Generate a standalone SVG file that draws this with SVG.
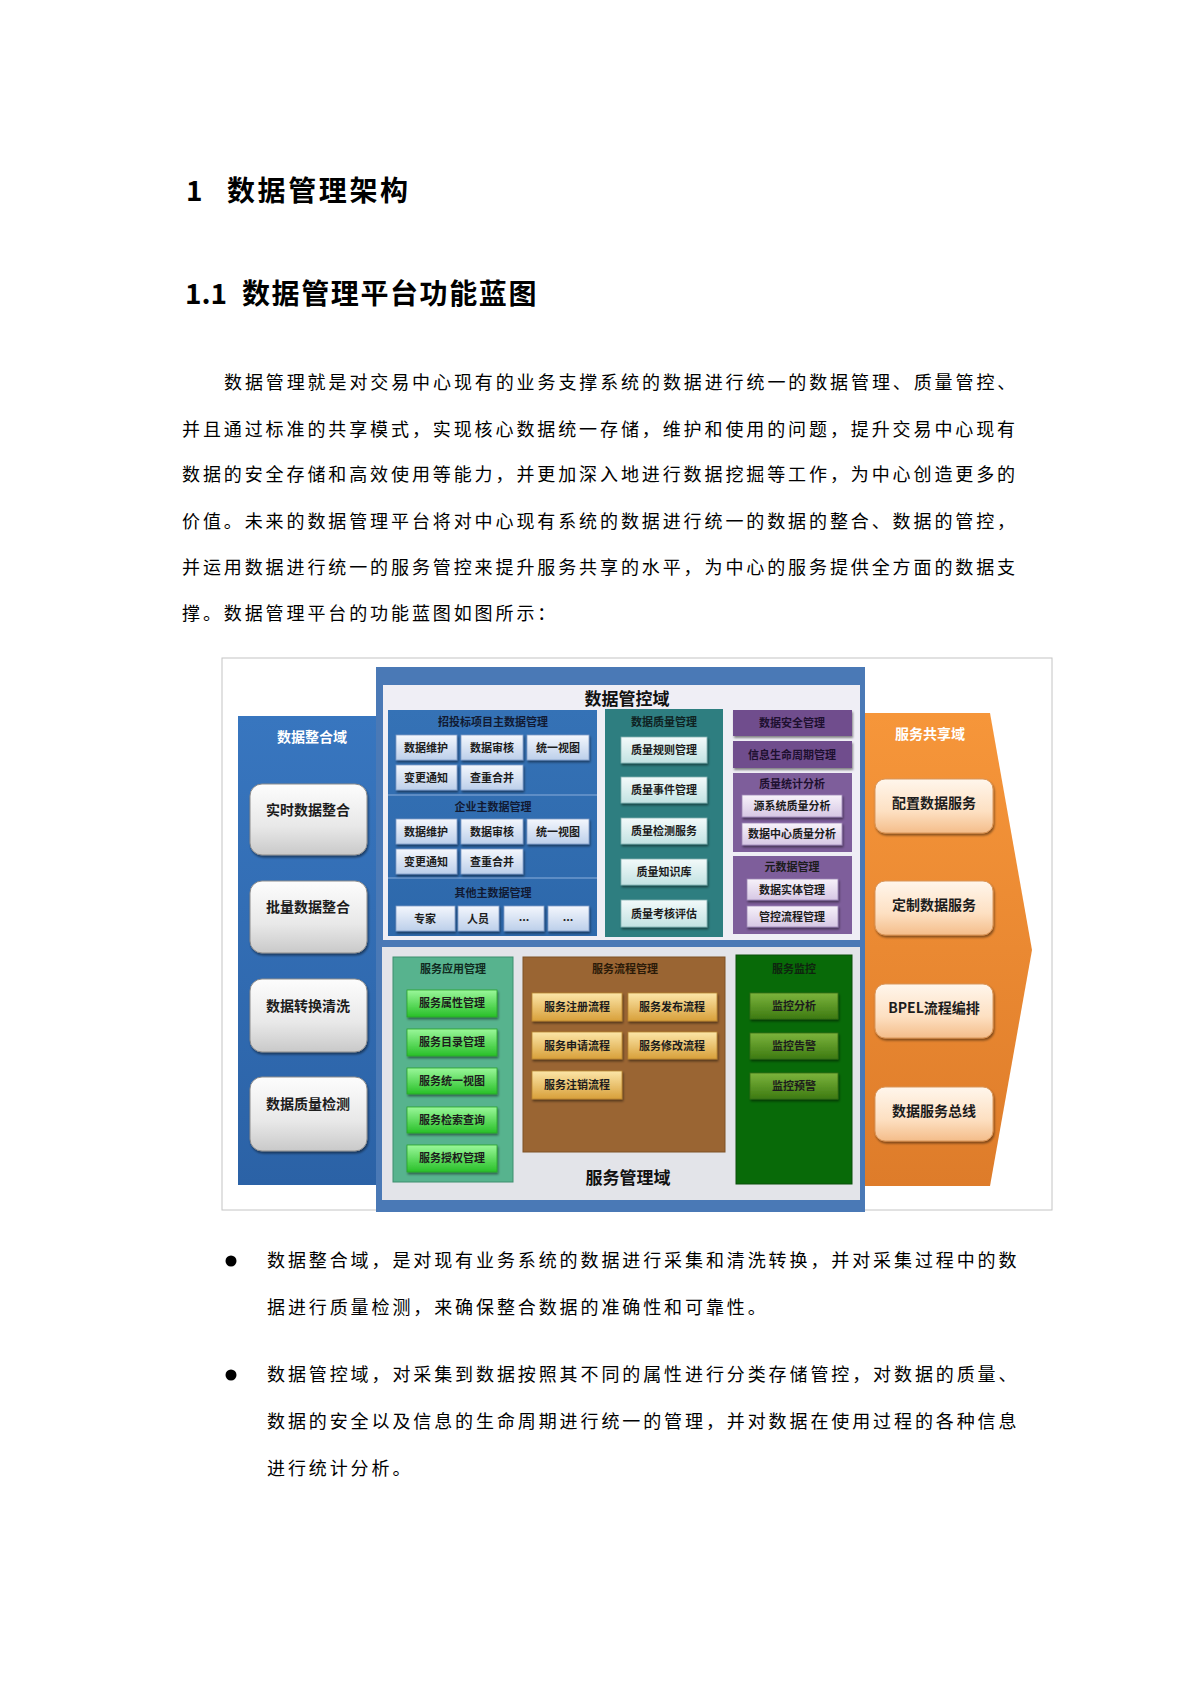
<svg xmlns="http://www.w3.org/2000/svg" width="1190" height="1683" viewBox="0 0 1190 1683">
<defs>
<linearGradient id="gLeftPanel" x1="0" y1="0" x2="0" y2="1"><stop offset="0" stop-color="#3876bf"/><stop offset="1" stop-color="#2b62a6"/></linearGradient>
<linearGradient id="gOrange" x1="0" y1="0" x2="0" y2="1"><stop offset="0" stop-color="#f6963a"/><stop offset="1" stop-color="#de7c2a"/></linearGradient>
<linearGradient id="gGrayBox" x1="0" y1="0" x2="0" y2="1"><stop offset="0" stop-color="#fdfdfd"/><stop offset="0.6" stop-color="#e8e8e8"/><stop offset="1" stop-color="#c9c9c9"/></linearGradient>
<linearGradient id="gPeachBox" x1="0" y1="0" x2="0" y2="1"><stop offset="0" stop-color="#fff6ec"/><stop offset="0.6" stop-color="#fde0c2"/><stop offset="1" stop-color="#f4bd8a"/></linearGradient>
<linearGradient id="gBlueBox" x1="0" y1="0" x2="0" y2="1"><stop offset="0" stop-color="#f4f7fd"/><stop offset="1" stop-color="#bccfea"/></linearGradient>
<linearGradient id="gTealBox" x1="0" y1="0" x2="0" y2="1"><stop offset="0" stop-color="#f3fafa"/><stop offset="1" stop-color="#c2e2e2"/></linearGradient>
<linearGradient id="gPurpleBox" x1="0" y1="0" x2="0" y2="1"><stop offset="0" stop-color="#f7f2fa"/><stop offset="1" stop-color="#d6c7e4"/></linearGradient>
<linearGradient id="gGreenBox" x1="0" y1="0" x2="0" y2="1"><stop offset="0" stop-color="#9af79a"/><stop offset="1" stop-color="#28c028"/></linearGradient>
<linearGradient id="gGoldBox" x1="0" y1="0" x2="0" y2="1"><stop offset="0" stop-color="#fce6a8"/><stop offset="1" stop-color="#d8a03a"/></linearGradient>
<linearGradient id="gOliveBox" x1="0" y1="0" x2="0" y2="1"><stop offset="0" stop-color="#7cb43c"/><stop offset="1" stop-color="#3d7a12"/></linearGradient>
<linearGradient id="gMaster" x1="0" y1="0" x2="0" y2="1"><stop offset="0" stop-color="#3572b6"/><stop offset="1" stop-color="#2d68ab"/></linearGradient>
<filter id="sh" x="-20%" y="-20%" width="140%" height="160%"><feDropShadow dx="1" dy="2" stdDeviation="1.2" flood-color="#000" flood-opacity="0.45"/></filter>
</defs>
<style>
text { font-family: "Noto Sans CJK SC", "Noto Sans", sans-serif; }
.body { font-size: 18px; letter-spacing: 2.9px; fill: #000; }
.h { font-size: 28px; fill: #000; font-weight: 600; }
.t { text-anchor: middle; font-weight: bold; fill: #1c1c1c; }
.s11 { font-size: 11px; }
.s12 { font-size: 12px; }
.s14 { font-size: 14px; }
.w { fill: #ffffff; }
.lb { fill: url(#gGrayBox); stroke: #8c8c8c; stroke-width: 1; filter: url(#sh); }
.ob { fill: url(#gPeachBox); stroke: #d9965a; stroke-width: 1; filter: url(#sh); }
.bb { fill: url(#gBlueBox); stroke: #7f9cc6; stroke-width: 0.8; filter: url(#sh); }
.tb { fill: url(#gTealBox); stroke: #7fb0b0; stroke-width: 0.8; filter: url(#sh); }
.pb { fill: url(#gPurpleBox); stroke: #9c86b4; stroke-width: 0.8; filter: url(#sh); }
.gb { fill: url(#gGreenBox); stroke: #2aa42a; stroke-width: 0.8; filter: url(#sh); }
.yb { fill: url(#gGoldBox); stroke: #b88530; stroke-width: 0.8; filter: url(#sh); }
.vb { fill: url(#gOliveBox); stroke: #386c12; stroke-width: 0.8; filter: url(#sh); }
</style>
<rect x="0" y="0" width="1190" height="1683" fill="#ffffff"/>

<g id="headings">
<text class="h" x="186" y="201">1</text>
<text class="h" x="227" y="201" style="letter-spacing:2.6px">数据管理架构</text>
<text class="h" x="185" y="304">1.1</text>
<text class="h" x="242" y="304" style="letter-spacing:1.6px">数据管理平台功能蓝图</text>
</g>

<g id="paragraph">
<text class="body" x="224" y="389">数据管理就是对交易中心现有的业务支撑系统的数据进行统一的数据管理、质量管控、</text>
<text class="body" x="182" y="436">并且通过标准的共享模式，实现核心数据统一存储，维护和使用的问题，提升交易中心现有</text>
<text class="body" x="182" y="481">数据的安全存储和高效使用等能力，并更加深入地进行数据挖掘等工作，为中心创造更多的</text>
<text class="body" x="182" y="528">价值。未来的数据管理平台将对中心现有系统的数据进行统一的数据的整合、数据的管控，</text>
<text class="body" x="182" y="574">并运用数据进行统一的服务管控来提升服务共享的水平，为中心的服务提供全方面的数据支</text>
<text class="body" x="182" y="620">撑。数据管理平台的功能蓝图如图所示：</text>
</g>

<g id="diagram">
<rect id="frame" x="222" y="658" width="830" height="552" fill="#ffffff" stroke="#c4c4c4" stroke-width="1"/>

<g id="integration-domain">
<rect x="238" y="716" width="152" height="469" fill="url(#gLeftPanel)"/>
<text class="t w s14" x="312" y="742">数据整合域</text>
<g id="n-realtime"><rect class="lb" x="250" y="784" width="117" height="71" rx="12"/><text class="t s14" x="308" y="815">实时数据整合</text></g>
<g id="n-batch"><rect class="lb" x="250" y="881" width="117" height="72" rx="12"/><text class="t s14" x="308" y="912">批量数据整合</text></g>
<g id="n-transform"><rect class="lb" x="250" y="979" width="117" height="73" rx="12"/><text class="t s14" x="308" y="1011">数据转换清洗</text></g>
<g id="n-quality-check"><rect class="lb" x="250" y="1077" width="117" height="74" rx="12"/><text class="t s14" x="308" y="1109">数据质量检测</text></g>
</g>

<g id="sharing-domain">
<polygon points="860,713 990,713 1032,950 990,1186 860,1186" fill="url(#gOrange)"/>
<text class="t w s14" x="930" y="739">服务共享域</text>
<g id="n-config"><rect class="ob" x="875" y="779" width="118" height="54" rx="10"/><text class="t s14" x="934" y="808">配置数据服务</text></g>
<g id="n-custom"><rect class="ob" x="875" y="881" width="118" height="54" rx="10"/><text class="t s14" x="934" y="910">定制数据服务</text></g>
<g id="n-bpel"><rect class="ob" x="875" y="984" width="118" height="54" rx="10"/><text class="t s14" x="934" y="1013">BPEL流程编排</text></g>
<g id="n-bus"><rect class="ob" x="875" y="1087" width="118" height="54" rx="10"/><text class="t s14" x="934" y="1116">数据服务总线</text></g>
</g>

<g id="center-frame">
<rect x="376" y="667" width="489" height="545" fill="#4a79b6"/>
<rect x="383" y="685" width="477" height="255" fill="#efeef5"/>
<rect x="382" y="947" width="478" height="253" fill="#e3e4e9"/>
</g>

<g id="control-domain">
<text class="t" x="627" y="705" style="font-size:17px;fill:#111">数据管控域</text>

<g id="master-data">
<rect x="388" y="710" width="209" height="226" fill="url(#gMaster)"/>
<line x1="388" y1="795" x2="597" y2="795" stroke="#6e98cc" stroke-width="1.5"/>
<line x1="388" y1="878" x2="597" y2="878" stroke="#6e98cc" stroke-width="1.5"/>
<text class="t s11" x="493" y="726" style="fill:#111a33">招投标项目主数据管理</text>
<g id="n-m1-1"><rect class="bb" x="396" y="735" width="61" height="25"/><text class="t s11" x="426" y="752">数据维护</text></g>
<g id="n-m1-2"><rect class="bb" x="461" y="735" width="62" height="25"/><text class="t s11" x="492" y="752">数据审核</text></g>
<g id="n-m1-3"><rect class="bb" x="527" y="735" width="62" height="25"/><text class="t s11" x="558" y="752">统一视图</text></g>
<g id="n-m1-4"><rect class="bb" x="396" y="765" width="61" height="25"/><text class="t s11" x="426" y="782">变更通知</text></g>
<g id="n-m1-5"><rect class="bb" x="461" y="765" width="62" height="25"/><text class="t s11" x="492" y="782">查重合并</text></g>
<text class="t s11" x="493" y="811" style="fill:#111a33">企业主数据管理</text>
<g id="n-m2-1"><rect class="bb" x="396" y="819" width="61" height="25"/><text class="t s11" x="426" y="836">数据维护</text></g>
<g id="n-m2-2"><rect class="bb" x="461" y="819" width="62" height="25"/><text class="t s11" x="492" y="836">数据审核</text></g>
<g id="n-m2-3"><rect class="bb" x="527" y="819" width="62" height="25"/><text class="t s11" x="558" y="836">统一视图</text></g>
<g id="n-m2-4"><rect class="bb" x="396" y="849" width="61" height="25"/><text class="t s11" x="426" y="866">变更通知</text></g>
<g id="n-m2-5"><rect class="bb" x="461" y="849" width="62" height="25"/><text class="t s11" x="492" y="866">查重合并</text></g>
<text class="t s11" x="493" y="897" style="fill:#111a33">其他主数据管理</text>
<g id="n-m3-1"><rect class="bb" x="396" y="906" width="59" height="25"/><text class="t s11" x="425" y="923">专家</text></g>
<g id="n-m3-2"><rect class="bb" x="458" y="906" width="41" height="25"/><text class="t s11" x="478" y="923">人员</text></g>
<g id="n-m3-3"><rect class="bb" x="504" y="906" width="40" height="25"/><text class="t s11" x="524" y="921">...</text></g>
<g id="n-m3-4"><rect class="bb" x="548" y="906" width="41" height="25"/><text class="t s11" x="568" y="921">...</text></g>
</g>

<g id="quality-mgmt">
<rect x="605" y="709" width="118" height="228" fill="#2e7e80"/>
<text class="t s11" x="664" y="726" style="fill:#0f2222">数据质量管理</text>
<g id="n-q1"><rect class="tb" x="621" y="737" width="86" height="26"/><text class="t s11" x="664" y="754">质量规则管理</text></g>
<g id="n-q2"><rect class="tb" x="621" y="777" width="86" height="26"/><text class="t s11" x="664" y="794">质量事件管理</text></g>
<g id="n-q3"><rect class="tb" x="621" y="818" width="86" height="26"/><text class="t s11" x="664" y="835">质量检测服务</text></g>
<g id="n-q4"><rect class="tb" x="621" y="859" width="86" height="26"/><text class="t s11" x="664" y="876">质量知识库</text></g>
<g id="n-q5"><rect class="tb" x="621" y="900" width="86" height="27"/><text class="t s11" x="664" y="918">质量考核评估</text></g>
</g>

<g id="security-mgmt">
<g id="n-sec"><rect x="733" y="710" width="119" height="26" fill="#6f4e8d" filter="url(#sh)"/><text class="t s11" x="792" y="727" style="fill:#1e1030">数据安全管理</text></g>
<g id="n-life"><rect x="733" y="741" width="119" height="27" fill="#6f4e8d" filter="url(#sh)"/><text class="t s11" x="792" y="759" style="fill:#1e1030">信息生命周期管理</text></g>
<g id="stats">
<rect x="733" y="773" width="119" height="79" fill="#7e5e9b"/>
<text class="t s11" x="792" y="788" style="fill:#1e1030">质量统计分析</text>
<g id="n-s1"><rect class="pb" x="742" y="795" width="100" height="22"/><text class="t s11" x="792" y="810">源系统质量分析</text></g>
<g id="n-s2"><rect class="pb" x="742" y="823" width="100" height="22"/><text class="t s11" x="792" y="838">数据中心质量分析</text></g>
</g>
<g id="metadata">
<rect x="733" y="856" width="119" height="78" fill="#7e5e9b"/>
<text class="t s11" x="792" y="871">元数据管理</text>
<g id="n-md1"><rect class="pb" x="747" y="879" width="91" height="21"/><text class="t s11" x="792" y="894">数据实体管理</text></g>
<g id="n-md2"><rect class="pb" x="747" y="906" width="91" height="21"/><text class="t s11" x="792" y="921">管控流程管理</text></g>
</g>
</g>
</g>

<g id="service-domain">
<g id="service-app">
<rect x="393" y="957" width="120" height="225" fill="#57b38e" stroke="#3e8e6e" stroke-width="1"/>
<text class="t s11" x="453" y="973" style="fill:#102a1e">服务应用管理</text>
<g id="n-a1"><rect class="gb" x="407" y="990" width="90" height="27"/><text class="t s11" x="452" y="1007">服务属性管理</text></g>
<g id="n-a2"><rect class="gb" x="407" y="1029" width="90" height="27"/><text class="t s11" x="452" y="1046">服务目录管理</text></g>
<g id="n-a3"><rect class="gb" x="407" y="1068" width="90" height="26"/><text class="t s11" x="452" y="1085">服务统一视图</text></g>
<g id="n-a4"><rect class="gb" x="407" y="1107" width="90" height="26"/><text class="t s11" x="452" y="1124">服务检索查询</text></g>
<g id="n-a5"><rect class="gb" x="407" y="1145" width="90" height="27"/><text class="t s11" x="452" y="1162">服务授权管理</text></g>
</g>
<g id="service-flow">
<rect x="523" y="957" width="202" height="195" fill="#9a6533" stroke="#7e5226" stroke-width="1"/>
<text class="t s11" x="625" y="973" style="fill:#2a1a08">服务流程管理</text>
<g id="n-f1"><rect class="yb" x="532" y="993" width="90" height="28"/><text class="t s11" x="577" y="1011">服务注册流程</text></g>
<g id="n-f2"><rect class="yb" x="628" y="993" width="89" height="28"/><text class="t s11" x="672" y="1011">服务发布流程</text></g>
<g id="n-f3"><rect class="yb" x="532" y="1032" width="90" height="27"/><text class="t s11" x="577" y="1050">服务申请流程</text></g>
<g id="n-f4"><rect class="yb" x="628" y="1032" width="89" height="27"/><text class="t s11" x="672" y="1050">服务修改流程</text></g>
<g id="n-f5"><rect class="yb" x="532" y="1071" width="90" height="28"/><text class="t s11" x="577" y="1089">服务注销流程</text></g>
</g>
<text class="t" x="628" y="1184" style="font-size:17px;fill:#111">服务管理域</text>
<g id="service-monitor">
<rect x="736" y="955" width="116" height="229" fill="#086a08" stroke="#0a4f0a" stroke-width="1"/>
<text class="t s11" x="794" y="973" style="fill:#0f240f">服务监控</text>
<g id="n-v1"><rect class="vb" x="750" y="993" width="88" height="26"/><text class="t s11" x="794" y="1010">监控分析</text></g>
<g id="n-v2"><rect class="vb" x="750" y="1033" width="88" height="26"/><text class="t s11" x="794" y="1050">监控告警</text></g>
<g id="n-v3"><rect class="vb" x="750" y="1073" width="88" height="26"/><text class="t s11" x="794" y="1090">监控预警</text></g>
</g>
</g>
</g>

<g id="bullets">
<circle cx="231" cy="1261" r="5.5" fill="#000"/>
<text class="body" x="267" y="1267">数据整合域，是对现有业务系统的数据进行采集和清洗转换，并对采集过程中的数</text>
<text class="body" x="267" y="1314">据进行质量检测，来确保整合数据的准确性和可靠性。</text>
<circle cx="231" cy="1375" r="5.5" fill="#000"/>
<text class="body" x="267" y="1381">数据管控域，对采集到数据按照其不同的属性进行分类存储管控，对数据的质量、</text>
<text class="body" x="267" y="1428">数据的安全以及信息的生命周期进行统一的管理，并对数据在使用过程的各种信息</text>
<text class="body" x="267" y="1475">进行统计分析。</text>
</g>
</svg>
